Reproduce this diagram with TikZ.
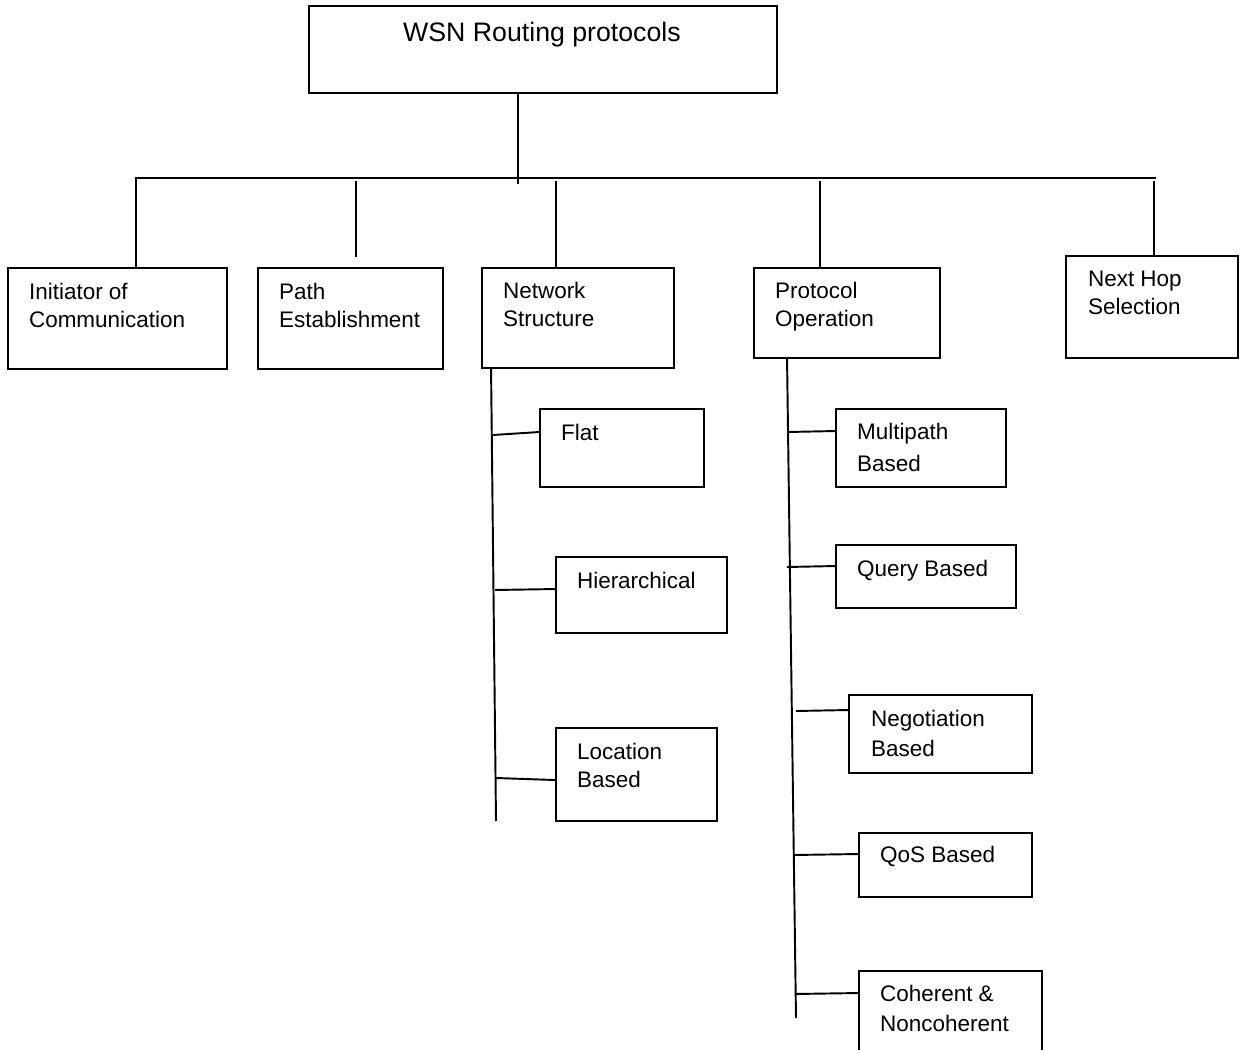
\documentclass[tikz,border=0pt]{standalone}
\usepackage{fontspec}
\setmainfont{Liberation Sans}
\usetikzlibrary{positioning}

\begin{document}
\begin{tikzpicture}[x=0.02cm, y=-0.02cm, line width=1.1pt,
    every node/.style={font=\fontsize{12.8}{15.8}\selectfont}]
        \tikzset{
          box/.style={draw, rectangle, inner sep=0pt},
          txt/.style={anchor=north west, inner sep=0pt, align=left}
        }
        \path[use as bounding box, clip] (0,0) rectangle (1242,1050);

        \node[box, minimum width=9.36cm, minimum height=1.74cm] (root) at (543,49.5) {};
        \node[anchor=north, inner sep=0pt, font=\fontsize{15.2}{18}\selectfont] (rootT)
              at ([shift={(-1,16.5)}]root.north) {WSN Routing protocols};

        \node[box, minimum width=4.38cm, minimum height=2.02cm] (init) at (117.5,318.5) {};
        \node[txt] (initT) at ([shift={(21,15.5)}]init.north west) {Initiator of\\Communication};
        \node[box, minimum width=3.70cm, minimum height=2.02cm] (path) at (350.5,318.5) {};
        \node[txt] (pathT) at ([shift={(21,15.5)}]path.north west) {Path\\Establishment};
        \node[box, minimum width=3.84cm, minimum height=2.00cm] (net) at (578,318) {};
        \node[txt] (netT) at ([shift={(21,14.5)}]net.north west) {Network\\Structure};
        \node[box, minimum width=3.72cm, minimum height=1.80cm] (proto) at (847,313) {};
        \node[txt] (protoT) at ([shift={(21,14.5)}]proto.north west) {Protocol\\Operation};
        \node[box, minimum width=3.44cm, minimum height=2.04cm] (hop) at (1152,307) {};
        \node[txt] (hopT) at ([shift={(22,15.5)}]hop.north west) {Next Hop\\Selection};

        \node[box, minimum width=3.28cm, minimum height=1.56cm] (flat) at (622,448) {};
        \node[txt] (flatT) at ([shift={(21,15.5)}]flat.north west) {Flat};
        \node[box, minimum width=3.42cm, minimum height=1.52cm] (hier) at (641.5,595) {};
        \node[txt] (hierT) at ([shift={(21,15.5)}]hier.north west) {Hierarchical};
        \node[box, minimum width=3.22cm, minimum height=1.86cm] (loc) at (636.5,774.5) {};
        \node[txt] (locT) at ([shift={(21,15.5)}]loc.north west) {Location\\Based};

        \node[box, minimum width=3.40cm, minimum height=1.56cm] (multi) at (921,448) {};
        \node[txt, text depth=0pt] (multiT) at ([shift={(21,14.5)}]multi.north west) {Multipath\\[2pt]Based};
        \node[box, minimum width=3.60cm, minimum height=1.26cm] (query) at (926,576.5) {};
        \node[txt] (queryT) at ([shift={(21,15.5)}]query.north west) {Query Based};
        \node[box, minimum width=3.66cm, minimum height=1.56cm] (nego) at (940.5,734) {};
        \node[txt] (negoT) at ([shift={(22,15.5)}]nego.north west) {Negotiation\\[1pt]Based};
        \node[box, minimum width=3.46cm, minimum height=1.28cm] (qos) at (945.5,865) {};
        \node[txt] (qosT) at ([shift={(21,13.5)}]qos.north west) {QoS Based};
        \node[box, minimum width=3.66cm, minimum height=1.98cm] (coh) at (950.5,1020.5) {};
        \node[txt] (cohT) at ([shift={(21,14.5)}]coh.north west) {Coherent \&\\[1pt]Noncoherent};

        \coordinate (busL) at (135,178);
        \coordinate (busR) at (1156,178);
        \draw (busL) -- (busR);
        \draw ([xshift=-0.5cm]root.south) -- ++(0,90);

        \coordinate (d1) at (136,178);
        \coordinate (d2) at (356,181);
        \coordinate (d2e) at (356,257);
        \coordinate (d3) at (556,181);
        \coordinate (d4) at (820,181);
        \coordinate (d5) at (1154,181);
        \draw (d1) -- (d1 |- init.north);
        \draw (d2) -- (d2e);
        \draw (d3) -- (d3 |- net.north);
        \draw (d4) -- (d4 |- proto.north);
        \draw (d5) -- (d5 |- hop.north);

        \coordinate (netB) at (496,821);
        \coordinate (protoB) at (796,1018);
        \draw ([xshift=0.2cm]net.south west) -- (netB);
        \draw ([xshift=0.68cm]proto.south west) -- (protoB);

        \coordinate (bFlat) at (493,435);
        \coordinate (bHier) at (495,590);
        \coordinate (bLoc) at (496,778);
        \draw (bFlat) -- ([shift={(0,24)}]flat.north west);
        \draw (bHier) -- ([shift={(0,33)}]hier.north west);
        \draw (bLoc) -- ([shift={(0,53)}]loc.north west);

        \coordinate (bMulti) at (788,432);
        \coordinate (bQuery) at (787,567);
        \coordinate (bNego) at (796,711);
        \coordinate (bQos) at (794,855);
        \coordinate (bCoh) at (795,994);
        \draw (bMulti) -- ([shift={(0,23)}]multi.north west);
        \draw (bQuery) -- ([shift={(0,22)}]query.north west);
        \draw (bNego) -- ([shift={(0,16)}]nego.north west);
        \draw (bQos) -- ([shift={(0,22)}]qos.north west);
        \draw (bCoh) -- ([shift={(0,23)}]coh.north west);
      \end{tikzpicture}
\end{document}
